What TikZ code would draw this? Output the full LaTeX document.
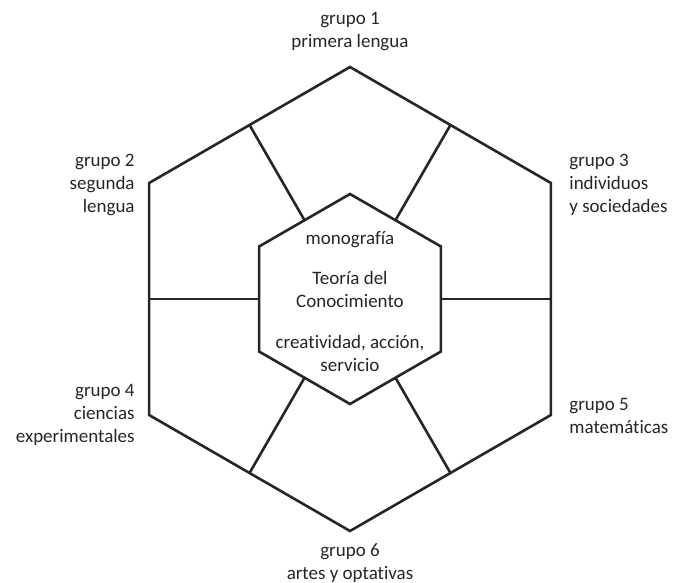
\documentclass[tikz,border=0pt]{standalone}
\usepackage{fontspec}
\setmainfont{Carlito}[Ligatures={NoCommon}]
\begin{document}
\begin{tikzpicture}[x=0.5pt,y=0.5pt,
  hexline/.style={line width=1.3pt, draw=black!85, line join=miter},
  grupo/.style={font=\fontsize{9.5}{11.5}\selectfont, text=black!85, inner sep=0pt}]
\useasboundingbox (-350,-284) rectangle (325,299);
% corners of the two hexagons
\foreach \a [count=\i] in {90,150,210,270,330,30} {
  \coordinate (O\i) at (\a:232);
  \coordinate (I\i) at (\a:105);
}
% midpoints of the sides
\foreach \a [count=\i] in {120,180,240,300,0,60} {
  \coordinate (Om\i) at (\a:200.9);
  \coordinate (Im\i) at (\a:90.9);
}
\draw [hexline] (O1) -- (O2) -- (O3) -- (O4) -- (O5) -- (O6) -- cycle;
\draw [hexline] (I1) -- (I2) -- (I3) -- (I4) -- (I5) -- (I6) -- cycle;
\foreach \i in {1,...,6}
  \draw [hexline] (Im\i) -- (Om\i);
% groups
\node [grupo, align=center] (G1) at (0,267.5) {grupo 1\\primera lengua};
\node [grupo, align=right, anchor=east] (G2) at (-215,114) {grupo 2\\segunda\\lengua};
\node [grupo, align=left, anchor=west] (G3) at (219,114) {grupo 3\\individuos\\y sociedades};
\node [grupo, align=right, anchor=east] (G4) at (-215,-116) {grupo 4\\ciencias\\experimentales};
\node [grupo, align=left, anchor=west] (G5) at (219,-116.5) {grupo 5\\matemáticas};
\node [grupo, align=center] (G6) at (0,-264.5) {grupo 6\\artes y optativas};
% core
\node [grupo, align=center] (MONO) at (0,59) {monografía};
\node [grupo, align=center] (TOK) at (0,10) {Teoría del\\Conocimiento};
\node [grupo, align=center] (CAS) at (0,-54.5) {creatividad, acción,\\servicio};
\end{tikzpicture}
\end{document}
